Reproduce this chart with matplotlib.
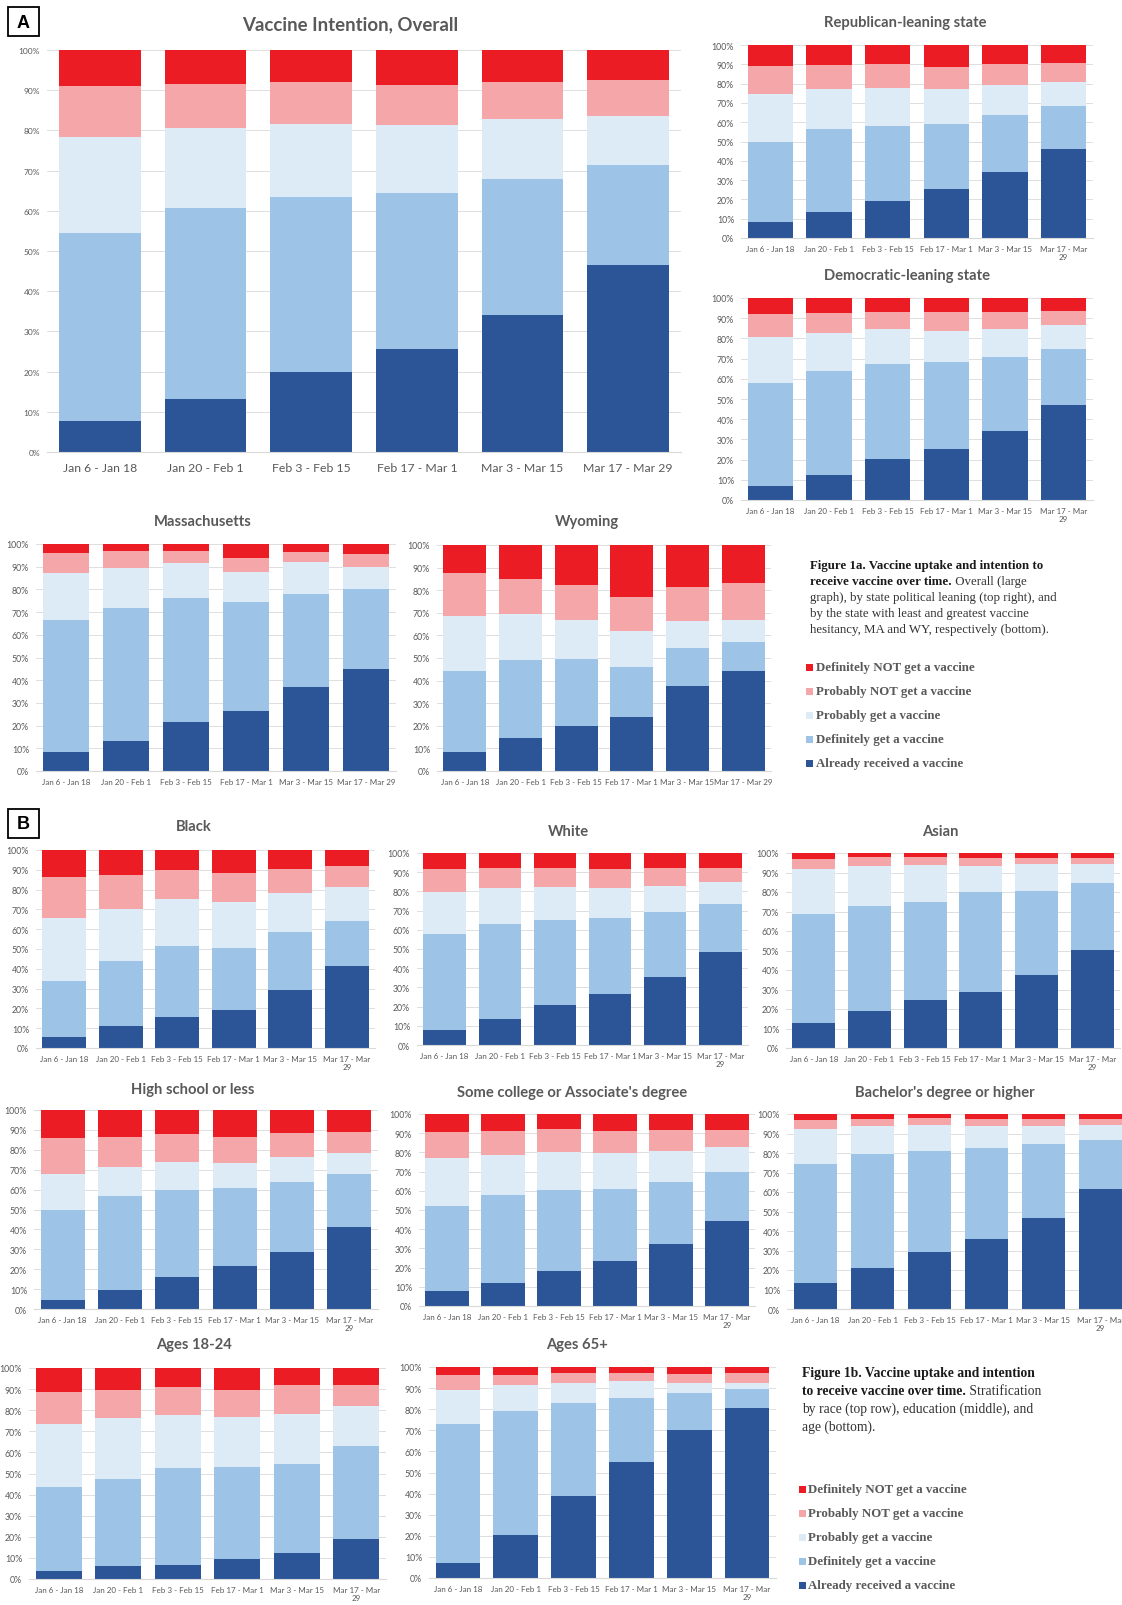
import numpy as np
import matplotlib.pyplot as plt
from matplotlib.patches import Rectangle
from matplotlib.ticker import FuncFormatter

W, H = 1122, 1606

periods = ["Jan 6 - Jan 18", "Jan 20 - Feb 1", "Feb 3 - Feb 15",
           "Feb 17 - Mar 1", "Mar 3 - Mar 15", "Mar 17 - Mar 29"]
responses = ["Definitely NOT get a vaccine", "Probably NOT get a vaccine",
             "Probably get a vaccine", "Definitely get a vaccine",
             "Already received a vaccine"]

# shares in % per period, rows stacked bottom to top:
# already received, definitely, probably, probably not, definitely not
overall = [[7.6, 13.1, 19.8, 25.5, 34.2, 46.5],
           [47.0, 47.6, 43.6, 39.0, 33.8, 25.0],
           [23.7, 20.0, 18.3, 16.8, 14.8, 12.0],
           [12.8, 10.8, 10.4, 10.1, 9.3, 9.0],
           [8.9, 8.5, 7.9, 8.6, 7.9, 7.5]]
republican = [[8.1, 13.5, 19.3, 25.2, 34.0, 46.3],
              [41.8, 42.8, 38.7, 34.0, 29.7, 22.1],
              [24.5, 20.7, 19.7, 18.0, 15.6, 12.3],
              [14.9, 12.6, 12.3, 11.4, 11.0, 10.1],
              [10.7, 10.4, 10.0, 11.4, 9.7, 9.2]]
democratic = [[6.9, 12.5, 20.1, 25.3, 34.0, 47.2],
              [50.8, 51.2, 47.2, 42.8, 36.9, 27.6],
              [23.1, 19.2, 17.2, 15.6, 14.0, 11.9],
              [11.5, 9.5, 8.8, 9.2, 8.4, 6.7],
              [7.7, 7.6, 6.7, 7.1, 6.7, 6.6]]
massachusetts = [[8.2, 13.0, 21.6, 26.5, 36.9, 45.0],
                 [58.4, 59.0, 54.6, 48.1, 41.0, 35.1],
                 [20.5, 17.3, 15.3, 12.9, 14.2, 9.8],
                 [8.8, 7.6, 5.4, 6.5, 4.4, 5.8],
                 [4.1, 3.1, 3.1, 6.0, 3.5, 4.3]]
wyoming = [[8.4, 14.7, 19.9, 24.1, 37.5, 44.1],
           [36.0, 34.6, 29.7, 22.1, 16.8, 13.1],
           [24.4, 20.1, 17.2, 15.9, 12.0, 9.6],
           [18.7, 15.5, 15.7, 14.7, 15.2, 16.4],
           [12.5, 15.1, 17.5, 23.2, 18.5, 16.8]]
black = [[5.7, 11.0, 15.5, 19.4, 29.3, 41.3],
         [28.2, 32.7, 35.9, 31.0, 29.4, 22.6],
         [31.9, 26.6, 24.0, 23.2, 19.7, 17.2],
         [20.4, 17.1, 14.5, 14.6, 12.2, 10.8],
         [13.8, 12.6, 10.1, 11.8, 9.4, 8.1]]
white = [[7.8, 13.4, 20.7, 26.7, 35.4, 48.4],
         [50.0, 49.8, 44.6, 39.6, 33.9, 25.0],
         [21.9, 18.4, 16.8, 15.6, 13.7, 11.4],
         [12.0, 10.4, 10.1, 9.6, 9.4, 7.4],
         [8.3, 8.0, 7.8, 8.5, 7.6, 7.8]]
asian = [[13.0, 18.8, 24.8, 28.9, 37.2, 50.3],
         [55.8, 54.0, 50.2, 51.2, 43.5, 34.1],
         [22.8, 20.5, 18.8, 13.4, 13.5, 9.8],
         [5.5, 4.5, 4.0, 4.1, 3.4, 3.2],
         [2.9, 2.2, 2.2, 2.4, 2.4, 2.6]]
high_school = [[4.4, 9.3, 15.9, 21.6, 28.8, 41.0],
               [45.5, 47.4, 43.8, 39.1, 34.8, 26.8],
               [17.9, 14.8, 14.0, 12.7, 12.6, 10.6],
               [18.2, 15.0, 14.0, 13.1, 12.3, 10.6],
               [14.0, 13.5, 12.3, 13.5, 11.5, 11.0]]
some_college = [[7.7, 12.2, 18.4, 23.3, 32.3, 44.2],
                [44.3, 45.4, 42.1, 37.6, 32.4, 25.5],
                [24.9, 20.8, 19.7, 18.8, 15.8, 13.1],
                [13.9, 12.7, 11.8, 11.4, 11.0, 9.0],
                [9.2, 8.9, 8.0, 8.9, 8.5, 8.2]]
bachelors = [[13.2, 21.0, 29.4, 35.9, 46.5, 61.5],
             [61.2, 58.7, 51.5, 46.7, 38.1, 25.3],
             [17.9, 14.3, 13.3, 11.2, 9.4, 7.6],
             [4.6, 3.4, 3.6, 3.6, 3.4, 3.2],
             [3.1, 2.6, 2.2, 2.6, 2.6, 2.4]]
ages_18_24 = [[3.6, 6.3, 6.6, 9.5, 12.5, 18.8],
              [40.2, 41.3, 46.2, 43.8, 42.1, 44.2],
              [29.5, 28.5, 24.7, 23.3, 23.7, 19.0],
              [15.1, 13.5, 13.3, 12.8, 13.6, 10.1],
              [11.6, 10.4, 9.2, 10.6, 8.1, 7.9]]
ages_65 = [[6.9, 20.2, 38.8, 55.0, 70.0, 80.4],
           [66.3, 59.1, 44.3, 30.5, 17.7, 9.0],
           [16.1, 12.2, 9.2, 7.7, 4.9, 2.9],
           [6.9, 4.9, 4.7, 3.8, 4.1, 4.7],
           [3.8, 3.6, 3.0, 3.0, 3.3, 3.0]]

# bottom to top
colors = ["#2B5597", "#9DC3E6", "#DDEBF7", "#F4A6A8", "#EC1C24"]
GRAY = "#595959"
SANS = "Lato"
SERIF = "Liberation Serif"

fig = plt.figure(figsize=(W / 100, H / 100), dpi=100)

# full-figure layer in pixel units (origin top-left) for captions, legends, labels
page = fig.add_axes([0, 0, 1, 1], zorder=5)
page.set_xlim(0, W)
page.set_ylim(H, 0)
page.set_axis_off()


def stacked_panel(box, data, title, title_xy, title_size=10.6, ytick_size=6.3,
                  xtick_size=5.8, wrap=True, xpad=5):
    left, top, right, bottom = box
    ax = fig.add_axes([left / W, 1 - bottom / H, (right - left) / W, (bottom - top) / H])
    x = np.arange(len(periods))
    base = np.zeros(len(periods))
    for vals, c in zip(data, colors):
        ax.bar(x, vals, 0.77, bottom=base, color=c, linewidth=0)
        base += np.asarray(vals)
    ax.set_xlim(-0.5, 5.5)
    ax.set_ylim(0, 100)
    ax.set_yticks(range(0, 101, 10))
    ax.yaxis.set_major_formatter(FuncFormatter(lambda v, p: f"{v:.0f}%"))
    ax.set_axisbelow(True)
    ax.grid(axis="y", color="#D9D9D9", linewidth=0.6)
    for s in ("top", "right", "left"):
        ax.spines[s].set_visible(False)
    ax.spines["bottom"].set_color("#D9D9D9")
    labels = periods[:-1] + ["Mar 17 - Mar\n29"] if wrap else periods
    ax.set_xticks(x, labels)
    ax.tick_params(axis="x", length=0, pad=xpad, labelsize=xtick_size, colors=GRAY)
    ax.tick_params(axis="y", length=0, pad=5, labelsize=ytick_size, colors=GRAY)
    for lab in ax.get_xticklabels() + ax.get_yticklabels():
        lab.set_family(SANS)
        lab.set_linespacing(1.1)
    page.text(title_xy[0], title_xy[1], title, ha="center", va="center",
              fontsize=title_size, fontweight="bold", color=GRAY, family=SANS)
    return ax


stacked_panel((47, 51, 681, 453), overall, "Vaccine Intention, Overall", (350, 25),
              title_size=13.4, ytick_size=6, xtick_size=8.8, wrap=False, xpad=7)
stacked_panel((741, 46, 1093, 239), republican, "Republican-leaning state", (905, 23))
stacked_panel((741, 299, 1093, 501), democratic, "Democratic-leaning state", (907, 276))
stacked_panel((36, 545, 396, 772), massachusetts, "Massachusetts", (203, 522), wrap=False)
stacked_panel((437, 546, 771, 772), wyoming, "Wyoming", (587, 522), wrap=False)
stacked_panel((36, 851, 375, 1049), black, "Black", (194, 827))
stacked_panel((417, 854, 748, 1046), white, "White", (568, 832))
stacked_panel((786, 854, 1120, 1049), asian, "Asian", (940, 832))
stacked_panel((34, 1111, 378, 1310), high_school, "High school or less", (193, 1090))
stacked_panel((419, 1115, 755, 1307), some_college, "Some college or Associate's degree", (572, 1093))
stacked_panel((787, 1115, 1129, 1310), bachelors, "Bachelor's degree or higher", (945, 1093))
stacked_panel((29, 1369, 386, 1580), ages_18_24, "Ages 18-24", (194, 1345))
stacked_panel((429, 1368, 776, 1579), ages_65, "Ages 65+", (577, 1345))

# section labels
for lab, (x0, y0) in (("A", (8, 8)), ("B", (8, 810))):
    page.add_patch(Rectangle((x0, y0), 31, 29, fill=False, edgecolor="black", linewidth=1.3))
    page.text(x0 + 15.5, y0 + 15, lab, ha="center", va="center", fontsize=13,
              fontweight="bold", family="Liberation Sans")


def caption(x, y0, step, bold_lines, mixed, plain_lines, size):
    y = y0
    for line in bold_lines:
        page.text(x, y, line, fontsize=size, fontweight="bold", family=SERIF,
                  color="#1a1a1a", va="baseline")
        y += step
    b = page.text(x, y, mixed[0], fontsize=size, fontweight="bold", family=SERIF,
                  color="#1a1a1a", va="baseline")
    page.annotate(mixed[1], xy=(1, y), xycoords=(b, "data"), fontsize=size,
                  family=SERIF, color="#333333", va="baseline", ha="left")
    y += step
    for line in plain_lines:
        page.text(x, y, line, fontsize=size, family=SERIF, color="#333333", va="baseline")
        y += step


def legend(xsq, xtxt, y0, step, size):
    for i, (name, c) in enumerate(zip(responses, colors[::-1])):
        y = y0 + i * step
        page.add_patch(Rectangle((xsq, y - 3.5), 7, 7, facecolor=c, edgecolor="none"))
        page.text(xtxt, y, name, fontsize=size, fontweight="bold", family=SERIF,
                  color=GRAY, va="center")


caption(810, 569, 16,
        ["Figure 1a. Vaccine uptake and intention to"],
        ("receive vaccine over time.", " Overall (large"),
        ["graph), by state political leaning (top right), and",
         "by the state with least and greatest vaccine",
         "hesitancy, MA and WY, respectively (bottom)."], 9.3)
legend(806, 816, 668, 24, 9.3)

caption(802, 1377, 18,
        ["Figure 1b. Vaccine uptake and intention"],
        ("to receive vaccine over time.", " Stratification"),
        ["by race (top row), education (middle), and",
         "age (bottom)."], 9.8)
legend(799, 808, 1490, 24, 9.3)

fig.savefig("out.png", dpi=100, facecolor="white")
